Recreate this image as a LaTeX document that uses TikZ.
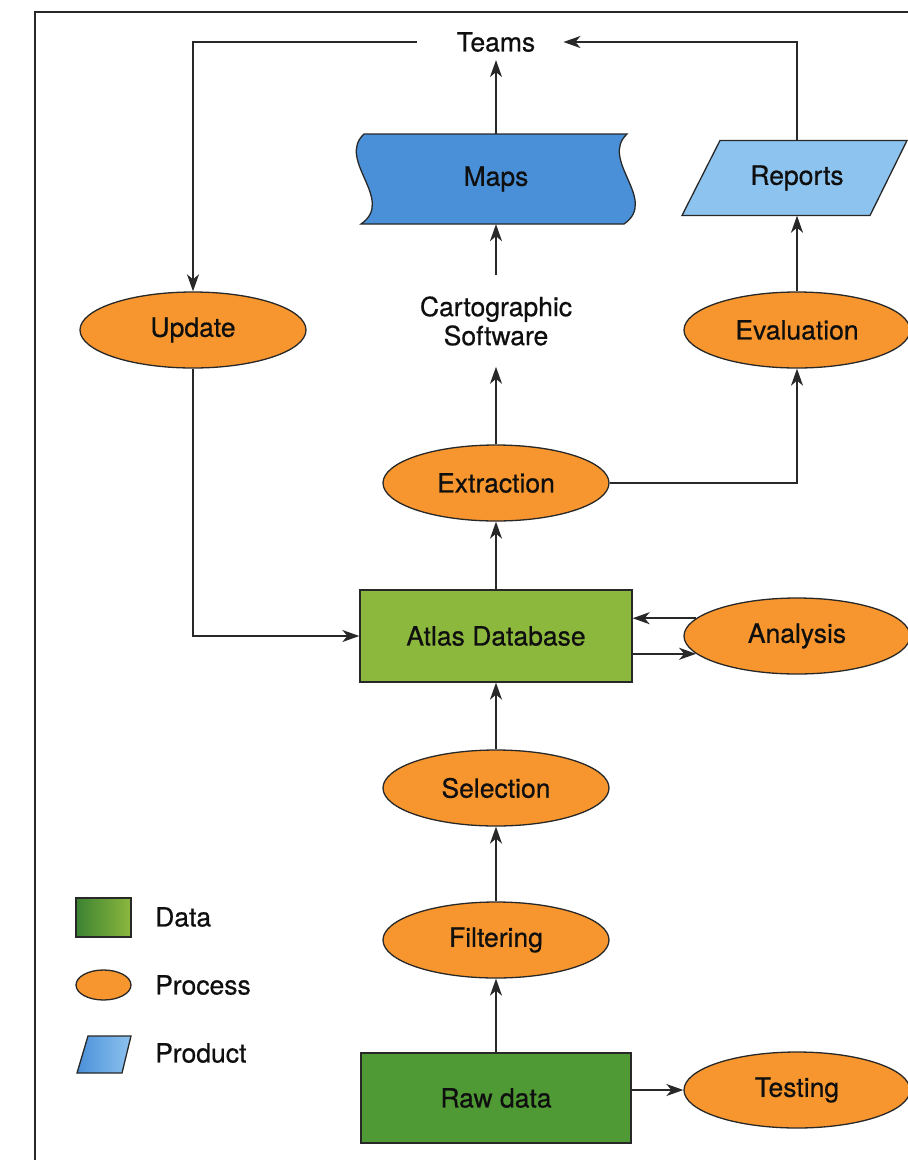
\documentclass[tikz,border=0pt]{standalone}
\usepackage{fontspec}
\setmainfont{TeX Gyre Heros}[FakeBold=0.6]
\usetikzlibrary{shapes.geometric,arrows.meta,calc}
\definecolor{procorange}{RGB}{247,150,46}
\definecolor{atlasgreen}{RGB}{140,184,62}
\definecolor{rawgreen}{RGB}{79,154,53}
\definecolor{darkgreen}{RGB}{60,130,50}
\definecolor{mapblue}{RGB}{74,144,217}
\definecolor{repblue}{RGB}{141,195,239}
\definecolor{lineclr}{RGB}{40,40,40}
\definecolor{txtclr}{RGB}{15,15,15}
\begin{document}
\begin{tikzpicture}[x=1pt,y=-1pt,
  font=\fontsize{26.5}{29}\selectfont, text=txtclr,
  arr/.style={draw=lineclr, line width=1.8pt, -{Stealth[length=17pt,width=12pt,inset=5pt]}},
  proc/.style={ellipse, draw=lineclr, line width=1.3pt, fill=procorange, minimum width=226pt, minimum height=76pt, inner sep=0pt},
  datab/.style={rectangle, draw=lineclr, line width=1.3pt, inner sep=0pt},
  shapeline/.style={draw=lineclr, line width=1.3pt},
  legtext/.style={anchor=west, inner sep=0pt}]
\useasboundingbox (0,0) rectangle (908,1160);
% frame
\draw[line width=2pt, draw=lineclr] (35,1162) -- (35,12) -- (910,12);

% Maps shape
\path[shapeline, fill=mapblue] (364,134) -- (627,134)
  .. controls (599,160) and (659,200) .. (624,224) -- (361,224)
  .. controls (396,200) and (336,160) .. (364,134) -- cycle;
\node[minimum width=262pt, minimum height=90pt, inner sep=0pt] (maps) at (496,179) {Maps};

% Reports shape
\path[shapeline, fill=repblue] (720,140.5) -- (907,140.5) -- (870,215.5) -- (682,215.5) -- cycle;
\node[minimum width=150pt, minimum height=75pt, inner sep=0pt] (reports) at (797,178) {Reports};

% Teams
\node[inner xsep=28pt, inner ysep=8pt] (teams) at (496,42) {Teams};

% Cartographic software
\node[align=center, inner xsep=0pt, inner ysep=21pt] (carto) at (496,321) {Cartographic\\Software};

% processes
\node[proc] (update) at (193,330) {Update};
\node[proc] (evaluation) at (797,330) {Evaluation};
\node[proc] (extraction) at (496,483) {Extraction};
\node[proc] (analysis) at (797,636) {Analysis};
\node[proc] (selection) at (496,788) {Selection};
\node[proc] (filtering) at (496,940) {Filtering};
\node[proc] (testing) at (797,1090) {Testing};

% data
\node[datab, fill=atlasgreen, minimum width=272pt, minimum height=92pt] (atlas) at (496,636) {Atlas Database};
\node[datab, fill=rawgreen, minimum width=270pt, minimum height=90pt] (raw) at (496,1098) {Raw data};

% connectors
\draw[arr] (maps.north) -- (teams.south);
\draw[arr] (reports.north) |- (teams.east);
\draw[arr] ([xshift=-12pt]teams.west) -| (update.north);
\draw[arr] (carto.north) -- (maps.south);
\draw[arr] (extraction.north) -- (carto.south);
\draw[arr] (extraction.east) -| (evaluation.south);
\draw[arr] (evaluation.north) -- (reports.south);
\draw[arr] (update.south) |- (atlas.west);
\draw[arr] (atlas.north) -- (extraction.south);
\draw[arr] (analysis.170) -- (analysis.170 -| atlas.east);
\draw[arr] (atlas.east |- analysis.190) -- (analysis.190);
\draw[arr] (selection.north) -- (atlas.south);
\draw[arr] (filtering.north) -- (selection.south);
\draw[arr] (raw.north) -- (filtering.south);
\draw[arr] (raw.east |- testing.west) -- (testing.west);

% legend
\node[datab, left color=darkgreen, right color=atlasgreen, minimum width=55pt, minimum height=39pt] (legdata) at (103.5,917.5) {};
\node[legtext] (legdatatxt) at (155,917) {Data};
\node[ellipse, draw=lineclr, line width=1.3pt, fill=procorange, minimum width=55pt, minimum height=30pt, inner sep=0pt] (legproc) at (103.5,985) {};
\node[legtext] (legproctxt) at (155,985) {Process};
\path[shapeline, left color=mapblue, right color=repblue] (88,1036) -- (131,1036) -- (122,1073) -- (77,1073) -- cycle;
\node[legtext] (legprodtxt) at (155,1053) {Product};
\end{tikzpicture}
\end{document}
